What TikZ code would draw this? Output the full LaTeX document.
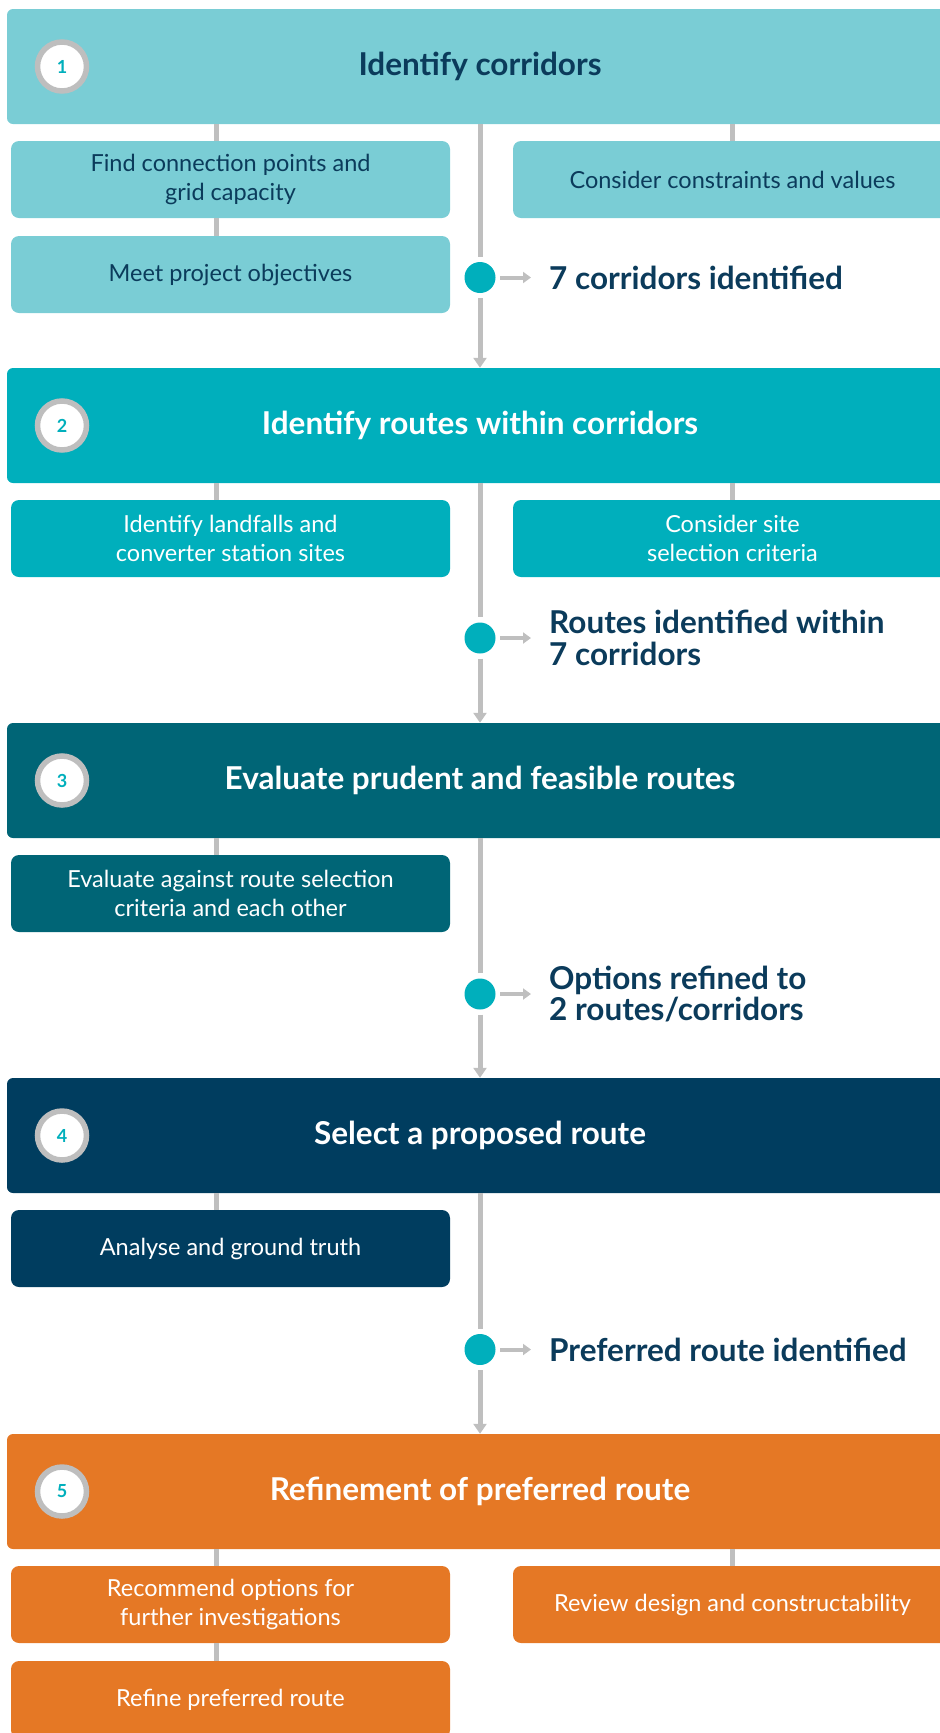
\documentclass[tikz,border=0pt]{standalone}
\usepackage{fontspec}
\setmainfont{Lato}
\usetikzlibrary{arrows.meta}

\definecolor{paleteal}{RGB}{122,205,213}
\definecolor{midteal}{RGB}{0,175,188}
\definecolor{deepteal}{RGB}{0,101,118}
\definecolor{navyfill}{RGB}{0,61,95}
\definecolor{orangefill}{RGB}{229,120,37}
\definecolor{navytext}{RGB}{11,59,91}
\definecolor{linegray}{RGB}{191,191,191}
\definecolor{ringgray}{RGB}{190,190,190}

\begin{document}
\begin{tikzpicture}[x=1pt,y=-1pt,
  header/.style={rectangle, rounded corners=6pt, minimum width=946pt,
    minimum height=115pt, inner sep=0pt, text=white,
    font=\fontsize{31.5}{36}\selectfont\bfseries},
  subbox/.style={rectangle, rounded corners=8pt, minimum width=439pt,
    minimum height=77pt, inner sep=0pt, align=center, text=white,
    font=\fontsize{23.5}{29}\selectfont},
  badge/.style={circle, fill=white, draw=ringgray, line width=5.5pt,
    minimum size=49pt, inner sep=0pt, text=midteal,
    font=\fontsize{18}{20}\selectfont\bfseries},
  hub/.style={circle, fill=midteal, minimum size=31pt, inner sep=0pt},
  outcome/.style={anchor=west, inner sep=0pt, align=left, text=navytext,
    font=\fontsize{31.5}{32}\selectfont\bfseries},
  link/.style={draw=linegray, line width=5pt},
  flow/.style={link, -{Triangle[length=10pt,width=13pt]}},
  pointer/.style={draw=linegray, line width=4pt,
    -{Triangle[length=8pt,width=11pt]}}
]
\useasboundingbox (0,0) rectangle (940,1733);
\clip (0,0) rectangle (940,1733);

% columns of the side connectors
\coordinate (lx) at (216,0);
\coordinate (rx) at (732,0);

% ---------- stage 1 ----------
\node[header, fill=paleteal, text=navytext] (h1) at (480,66.5) {Identify corridors};
\node[badge] (n1) at (62,66.5) {1};
\node[subbox, fill=paleteal, text=navytext] (a1) at (230.5,179.5) {Find connection points and\\grid capacity};
\node[subbox, fill=paleteal, text=navytext] (c1) at (732.5,179.5) {Consider constraints and values};
\node[subbox, fill=paleteal, text=navytext] (b1) at (230.5,274.5) {Meet project objectives};
\node[hub] (d1) at (480,277.5) {};
\node[outcome] (o1) at (549,277.5) {7 corridors identified};

% ---------- stage 2 ----------
\node[header, fill=midteal] (h2) at (480,425.5) {Identify routes within corridors};
\node[badge] (n2) at (62,425.5) {2};
\node[subbox, fill=midteal] (a2) at (230.5,538.5) {Identify landfalls and\\converter station sites};
\node[subbox, fill=midteal] (c2) at (732.5,538.5) {Consider site\\selection criteria};
\node[hub] (d2) at (480,638) {};
\node[outcome] (o2) at (549,638) {Routes identified within\\7 corridors};

% ---------- stage 3 ----------
\node[header, fill=deepteal] (h3) at (480,780.5) {Evaluate prudent and feasible routes};
\node[badge] (n3) at (62,780.5) {3};
\node[subbox, fill=deepteal] (a3) at (230.5,893.5) {Evaluate against route selection\\criteria and each other};
\node[hub] (d3) at (480,994) {};
\node[outcome] (o3) at (549,994) {Options refined to\\2 routes/corridors};

% ---------- stage 4 ----------
\node[header, fill=navyfill] (h4) at (480,1135.5) {Select a proposed route};
\node[badge] (n4) at (62,1135.5) {4};
\node[subbox, fill=navyfill] (a4) at (230.5,1248.5) {Analyse and ground truth};
\node[hub] (d4) at (480,1349.5) {};
\node[outcome] (o4) at (549,1349.5) {Preferred route identified};

% ---------- stage 5 ----------
\node[header, fill=orangefill] (h5) at (480,1491.5) {Refinement of preferred route};
\node[badge] (n5) at (62,1491.5) {5};
\node[subbox, fill=orangefill] (a5) at (230.5,1604.5) {Recommend options for\\further investigations};
\node[subbox, fill=orangefill] (c5) at (732.5,1604.5) {Review design and constructability};
\node[subbox, fill=orangefill] (b5) at (230.5,1699.5) {Refine preferred route};

% ---------- side connectors ----------
\draw[link] (h1.south -| lx) -- (a1.north -| lx);
\draw[link] (a1.south -| lx) -- (b1.north -| lx);
\draw[link] (h1.south -| rx) -- (c1.north -| rx);
\draw[link] (h2.south -| lx) -- (a2.north -| lx);
\draw[link] (h2.south -| rx) -- (c2.north -| rx);
\draw[link] (h3.south -| lx) -- (a3.north -| lx);
\draw[link] (h4.south -| lx) -- (a4.north -| lx);
\draw[link] (h5.south -| lx) -- (a5.north -| lx);
\draw[link] (a5.south -| lx) -- (b5.north -| lx);
\draw[link] (h5.south -| rx) -- (c5.north -| rx);

% ---------- main spine ----------
\draw[link, shorten >=5pt] (h1.south) -- (d1.north);
\draw[flow, shorten <=5pt] (d1.south) -- (h2.north);
\draw[link, shorten >=5pt] (h2.south) -- (d2.north);
\draw[flow, shorten <=5pt] (d2.south) -- (h3.north);
\draw[link, shorten >=5pt] (h3.south) -- (d3.north);
\draw[flow, shorten <=5pt] (d3.south) -- (h4.north);
\draw[link, shorten >=5pt] (h4.south) -- (d4.north);
\draw[flow, shorten <=5pt] (d4.south) -- (h5.north);

% ---------- outcome pointers ----------
\draw[pointer, shorten <=4.5pt, shorten >=18pt] (d1.east) -- (o1.west);
\draw[pointer, shorten <=4.5pt, shorten >=18pt] (d2.east) -- (o2.west);
\draw[pointer, shorten <=4.5pt, shorten >=18pt] (d3.east) -- (o3.west);
\draw[pointer, shorten <=4.5pt, shorten >=18pt] (d4.east) -- (o4.west);
\end{tikzpicture}
\end{document}
